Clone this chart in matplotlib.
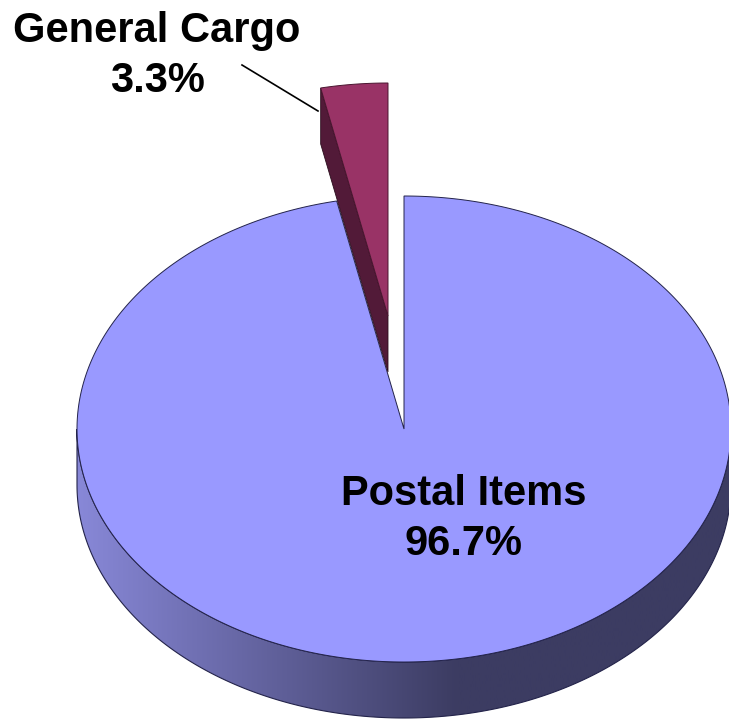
import numpy as np
import matplotlib.pyplot as plt
from matplotlib.patches import Polygon

labels = ['Postal Items', 'General Cargo']
shares = [96.7, 3.3]
top_colors = ['#9999ff', '#993366']
face_colors = ['#2e2e5a', '#521a38']

# geometry of the tilted disc (pixel units, y down)
CX, CY, RX, RY, DEPTH = 404, 429, 327, 233, 56
offsets = [(0, 0), (-16, -113)]


def pt(theta, dx=0, dy=0, down=0):
    t = np.radians(theta)
    return CX + dx + RX * np.sin(t), CY + dy - RY * np.cos(t) + down


fig = plt.figure(figsize=(7.29, 7.19), dpi=100)
ax = fig.add_axes([0, 0, 1, 1])
ax.set_xlim(0, 729)
ax.set_ylim(719, 0)
ax.axis('off')

starts = np.cumsum([0] + shares[:-1]) * 3.6
ends = starts + np.array(shares) * 3.6
edge = '#23234a'

# horizontal shading for the outer wall
gx = np.linspace(0, 729, 400)
tt = np.clip((gx - 77) / 380.0, 0, 1)
left = np.array([136, 136, 216]) / 255
right = np.array([60, 60, 98]) / 255
grad = (left[None, :] + (right - left)[None, :] * tt[:, None])[None, :, :]

for i in range(len(shares)):
    a0, a1 = starts[i], ends[i]
    dx, dy = offsets[i]
    s0, s1 = max(a0, 90), min(a1, 270)
    if s1 > s0:
        th = np.linspace(s0, s1, 300)
        tx, ty = pt(th, dx, dy)
        bx, by = pt(th[::-1], dx, dy, DEPTH)
        wall = Polygon(list(zip(tx, ty)) + list(zip(bx, by)), closed=True,
                       facecolor='none', edgecolor=edge, lw=0.8, zorder=2)
        ax.add_patch(wall)
        im = ax.imshow(grad, extent=(0, 729, 719, 0), aspect='auto', zorder=1,
                       interpolation='bilinear')
        im.set_clip_path(wall)

for i in range(len(shares)):
    a0, a1 = starts[i], ends[i]
    dx, dy = offsets[i]
    apex = (CX + dx, CY + dy)
    # radial face at the start edge when it faces the viewer
    if a0 > 270:
        o = pt(a0, dx, dy)
        ax.add_patch(Polygon([o, apex, (apex[0], apex[1] + DEPTH), (o[0], o[1] + DEPTH)],
                             closed=True, facecolor=face_colors[i],
                             edgecolor='#2a0d1c', lw=0.6, zorder=3 + i))
    th = np.linspace(a0, a1, int((a1 - a0) * 2) + 2)
    xs, ys = pt(th, dx, dy)
    verts = [apex] + list(zip(xs, ys))
    ax.add_patch(Polygon(verts, closed=True, facecolor=top_colors[i],
                         edgecolor=edge if i == 0 else '#4a1630', lw=0.7,
                         zorder=3 + i))

# labels
ax.text(464, 519, f'{labels[0]}\n{shares[0]}%', ha='center', va='center',
        fontsize=30, fontweight='bold', family='Liberation Sans',
        linespacing=1.32, zorder=10)
ax.text(157, 56, f'{labels[1]}\n{shares[1]}%', ha='center', va='center',
        fontsize=30, fontweight='bold', family='Liberation Sans',
        linespacing=1.32, zorder=10)
ax.plot([242, 318], [65, 111], color='black', lw=1.2, zorder=10)

fig.savefig('out.png', dpi=100, facecolor='white')
